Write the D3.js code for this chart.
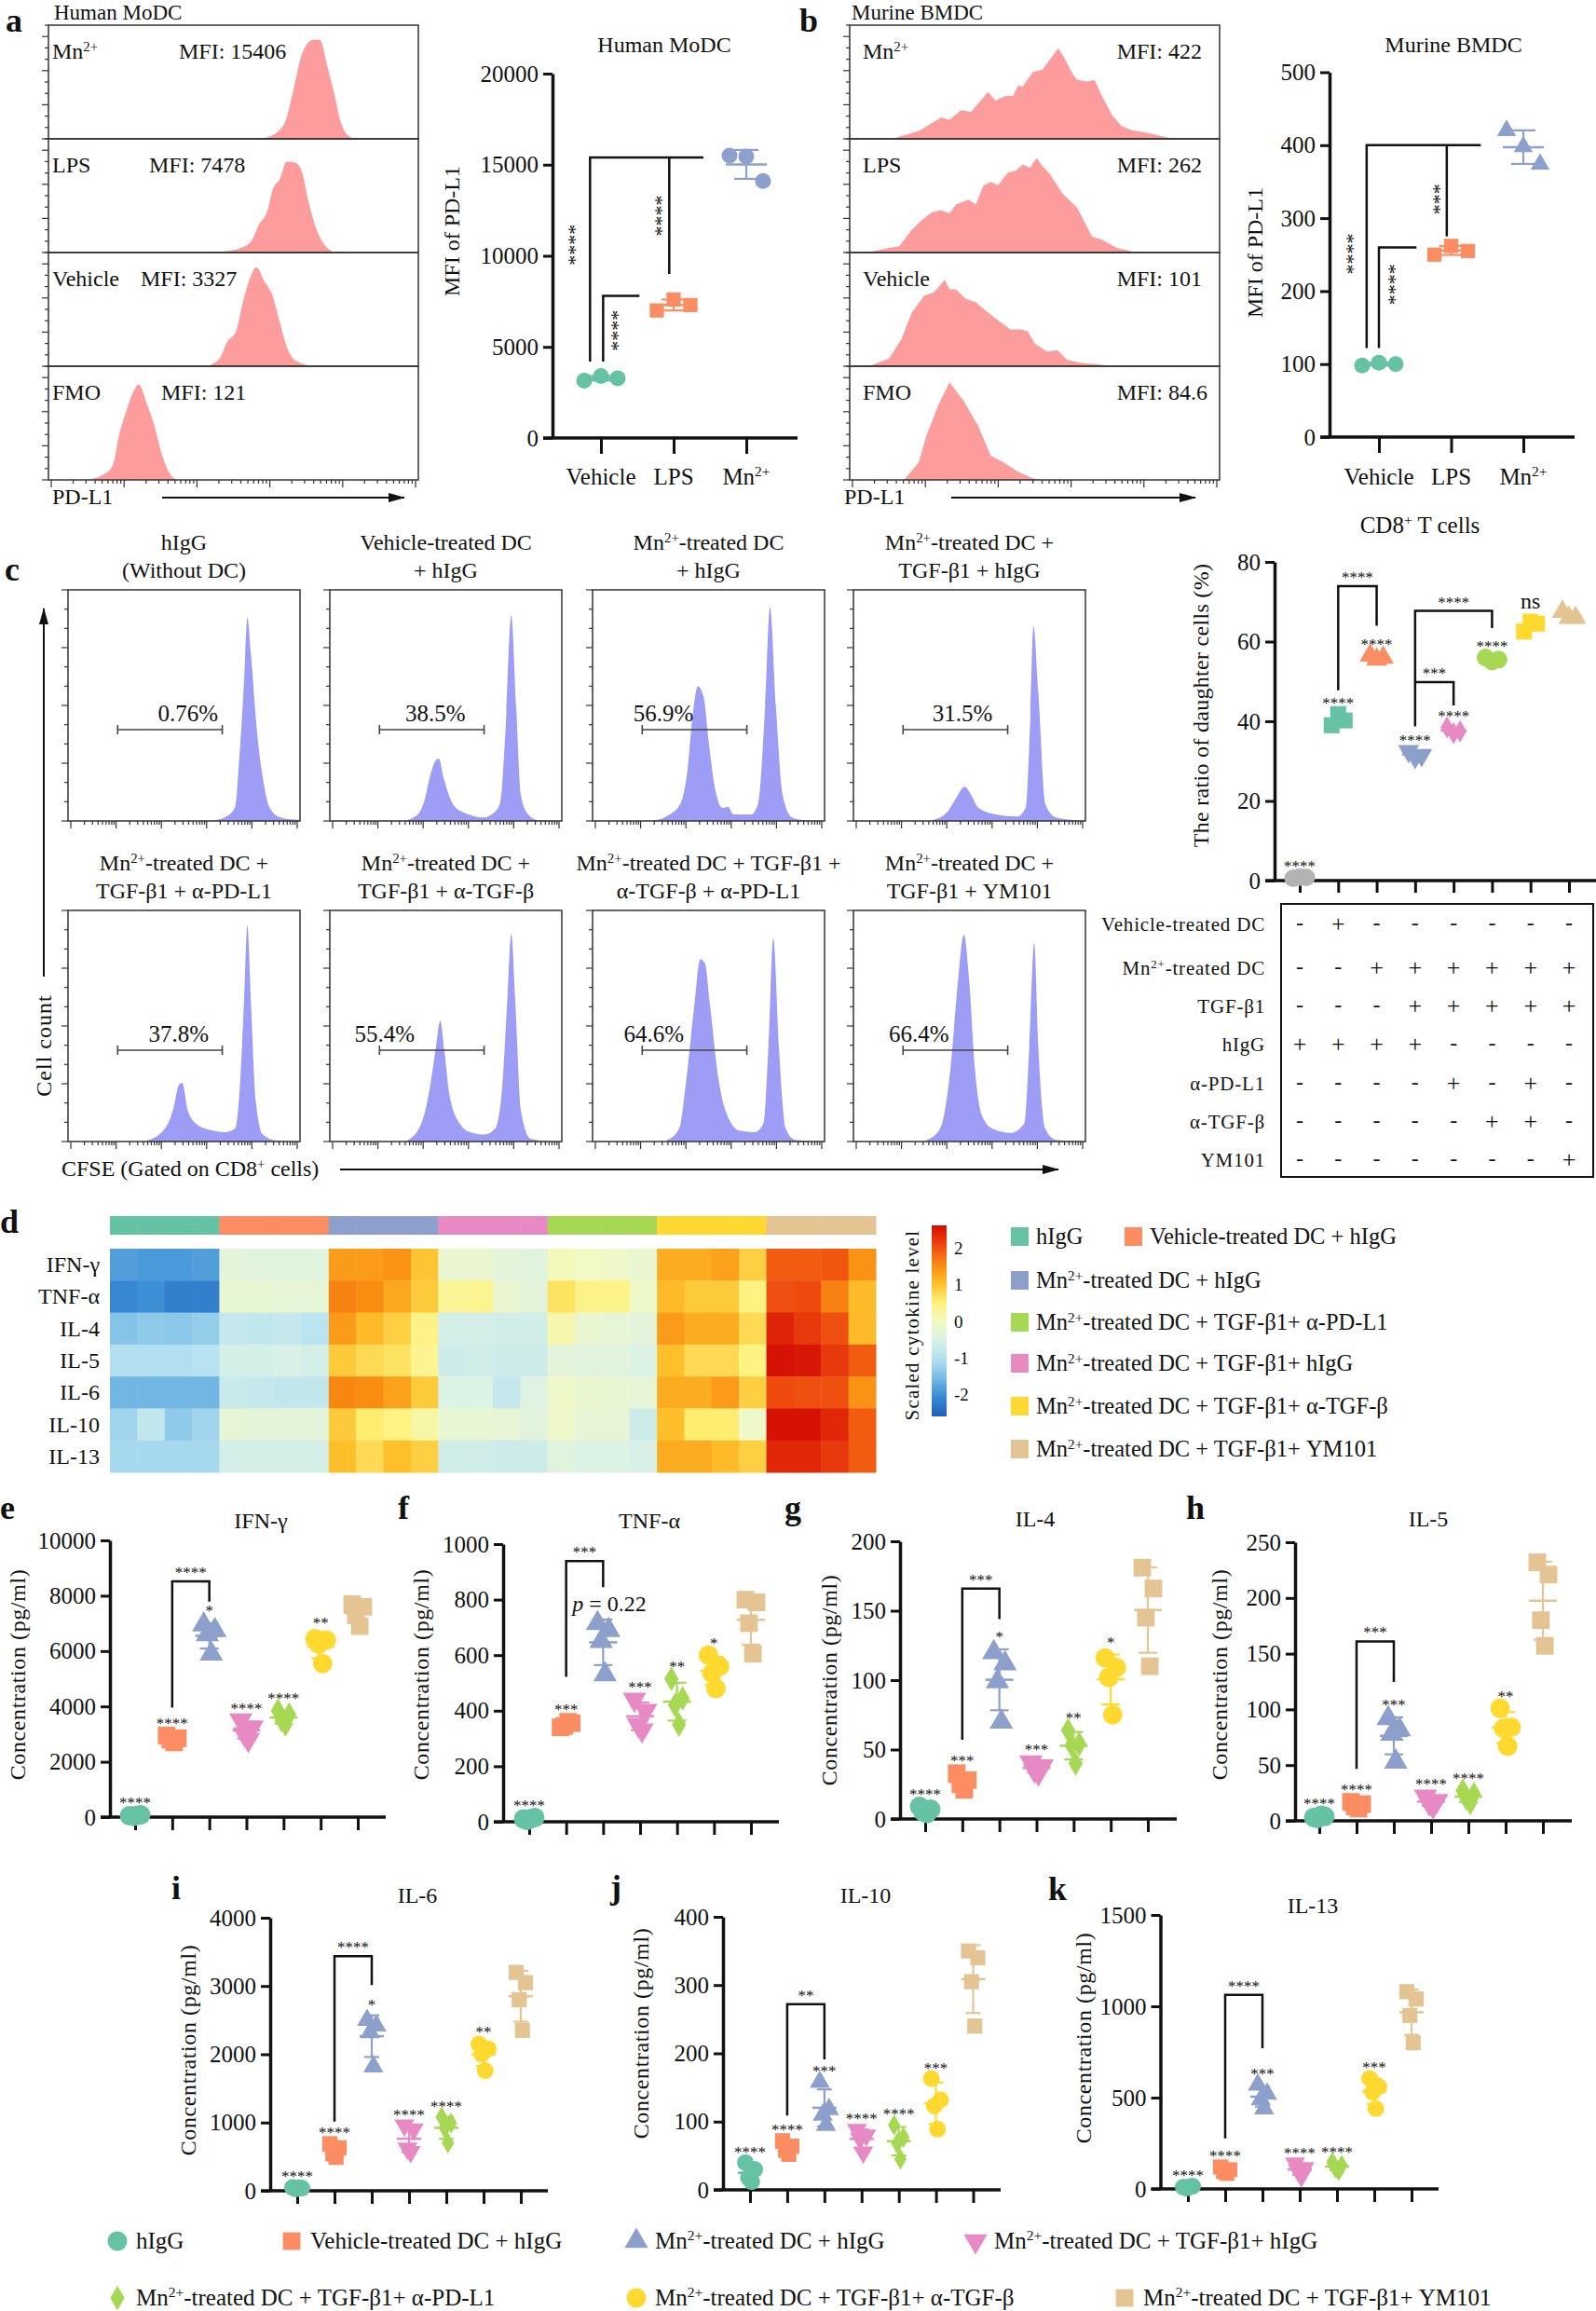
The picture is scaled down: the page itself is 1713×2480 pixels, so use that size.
<!DOCTYPE html>
<html><head><meta charset="utf-8">
<script src="https://cdn.jsdelivr.net/npm/d3@7"></script>
<style>
html,body{margin:0;padding:0;background:#fff;}
svg{display:block;}
</style></head><body><svg id="fig" width="1713" height="2480"></svg>
<script>
// ================= DATA =================
const groupColors = ["#66c2a5","#fc8d62","#8da0cb","#e78ac3","#a6d854","#ffd92f","#e5c494"];
const greyColor = "#b3b3b3";
const histRed = "#fc9c9c";
const histBlue = "#9d9df5";

// ---- panels a / b ----
const abCategories = ["Vehicle","LPS","Mn^{2+}"];
const humanMFIValues = [[3150,3400,3280],[7000,7600,7300],[15500,15450,14100]];
const murineMFIValues = [[98,102,100],[250,262,255],[420,398,374]];
const humanTicks = [0,5000,10000,15000,20000];
const murineTicks = [0,100,200,300,400,500];
const histLabels = ["Mn^{2+}","LPS","Vehicle","FMO"];
const humanMFILabels = ["MFI: 15406","MFI: 7478","MFI: 3327","MFI: 121"];
const murineMFILabels = ["MFI: 422","MFI: 262","MFI: 101","MFI: 84.6"];
// histogram outlines: [channel position %, height %]
const humanHist = [
 [[57,0],[60.5,3],[64,15],[66,40],[68.6,75],[71.5,87],[73.4,87],[75.3,65],[77.4,38],[79,15],[81,3],[83,0]],
 [[44.2,0],[47.7,1],[52,4],[54.8,10],[57,25],[59,35],[60.7,56],[62.6,65],[64.4,80],[66.8,79],[68.6,70],[70.3,45],[72.5,20],[74.6,7],[77.4,0]],
 [[42.8,0],[46.3,7],[48.4,22],[50.6,30],[52.7,58],[54.8,80],[56.2,87],[58.3,75],[60.5,63],[62.6,38],[64.7,15],[66.8,5],[71.8,0]],
 [[10.3,0],[14.5,4],[17.4,13],[19.2,41],[20.9,59],[23,78],[24.4,84],[26.6,67],[28.7,47],[30.8,21],[32.9,5],[35,0]]
];
const murineHist = [
 [[11.4,0],[18.7,7],[24.7,18.8],[27,16.8],[30.1,25.2],[32.8,23.8],[37.4,41.2],[39.4,33.6],[42.1,37.8],[44.1,37.8],[45.5,46.8],[46.8,46.2],[49.5,58.8],[52.1,60.8],[54.8,72.8],[56.4,79.8],[58.2,70],[60.2,57.4],[61.5,51.8],[64.2,50.4],[66.2,51.8],[68.2,37.8],[70.9,21],[73.5,11.2],[76.2,7.6],[80.2,5.6],[85.6,1.4],[88.2,0]],
 [[4.7,0],[10.7,4.2],[13.4,5.6],[16.7,19.7],[19.4,28.2],[22.1,35.2],[24.7,37.2],[27,34.4],[28.7,42.3],[32.1,46.5],[34.1,42.3],[36.1,58.6],[38.1,62],[40.1,59.2],[42.8,70.4],[44.8,71.8],[46.8,77.5],[48.8,74.6],[50.5,83.1],[52.1,76],[54.1,69],[57.5,52.1],[61.5,39.4],[65.5,14.1],[68.2,11.3],[72.2,4.2],[77.5,0]],
 [[5.3,0],[10.7,7],[14,23.9],[16.7,46.5],[20.1,62],[22.7,64.8],[25.7,76],[27,67.6],[28.7,67.6],[31.4,59.2],[34.1,56.3],[36.1,50.7],[38.8,43.7],[41.7,36.6],[43.4,32.4],[46.1,32.4],[48.1,31],[50.1,19.7],[53.5,12.7],[56.1,14.1],[58.8,5.6],[62.8,2.8],[72.2,0]],
 [[14.7,0],[18.7,15.7],[20.7,38.6],[24.1,67.1],[27,85.7],[30.7,70],[34.8,47.1],[38.1,21.4],[41.4,15.7],[45.5,7.1],[49.5,1.4],[52.1,0]]
];
// significance lines in data units: [category index, value]
const humanBrackets = [[[-0.15,4200],[-0.15,15400],[1.41,15400]],[[0.94,9000],[0.94,15400]],[[0.03,4200],[0.03,7800],[0.53,7800]]];
const humanBracketStars = [["****",-0.36,10600],["****",0.83,12200],["****",0.22,5900]];
const murineBrackets = [[[-0.17,122],[-0.17,400],[1.41,400]],[[0.94,275],[0.94,400]],[[0,122],[0,260],[0.52,260]]];
const murineBracketStars = [["****",-0.37,251],["***",0.83,326],["****",0.21,209]];

// ---- panel c ----
const cTitles = [["hIgG","(Without DC)"],["Vehicle-treated DC","+ hIgG"],["Mn^{2+}-treated DC","+ hIgG"],["Mn^{2+}-treated DC +","TGF-β1 + hIgG"],
 ["Mn^{2+}-treated DC +","TGF-β1 + α-PD-L1"],["Mn^{2+}-treated DC +","TGF-β1 + α-TGF-β"],["Mn^{2+}-treated DC + TGF-β1 +","α-TGF-β + α-PD-L1"],["Mn^{2+}-treated DC +","TGF-β1 + YM101"]];
const cGateValues = ["0.76%","38.5%","56.9%","31.5%","37.8%","55.4%","64.6%","66.4%"];
const cHists = [
 [[61.3,0],[67.4,1.5],[71.9,5.6],[74,29.6],[75.8,59],[77.3,88],[78.9,72],[81,44],[84,18.5],[87,5.6],[91.5,1.5],[100,0.4]],
 [[31.8,0],[37.9,2.8],[40.9,9.3],[43,18.5],[45.5,26],[47,27],[49.1,18.5],[53,7.4],[57.6,3.7],[66.7,1.5],[69.7,2.8],[73.3,7.4],[75.8,40.7],[78.2,88.9],[80.3,50],[82.4,11],[85.5,2.8],[89.4,0.4],[100,0]],
 [[25.5,0],[33.2,2.8],[37.8,7.4],[40.9,22],[43,44.4],[45.4,58.3],[47.9,53.7],[50,35],[53,13],[56.1,5.6],[58.5,6],[60.7,2.8],[68.3,2.8],[71.3,7.4],[74.4,50],[76.5,92.6],[79,50],[82,11],[86,1.5],[91.2,0.4],[100,0]],
 [[34.2,0.4],[40.3,3.7],[43.9,9.3],[47.9,14.8],[50.9,11],[53.9,5.6],[61.5,2.8],[70.6,1.9],[74.2,5.6],[76.1,40.7],[77.6,84.3],[79.7,55.6],[82.7,7.4],[87.3,1.5],[94.8,0.4],[100,0]],
 [[34.1,0.4],[41.7,5.5],[45.6,15],[47.7,24.4],[49.2,25.4],[51.7,13.3],[55.3,7.7],[61.3,5],[67.4,4],[71.9,5.5],[74,22.5],[75.8,59.4],[77.3,93.5],[78.9,59.4],[81,16.9],[84,3],[90,0.4],[100,0]],
 [[33.3,0.4],[39.4,7.7],[43,22.5],[45.5,39.3],[47.6,52.2],[49.4,39.3],[51.5,20.7],[56.1,7.7],[60.6,4],[66.7,3],[71.2,5.5],[74.2,22.5],[76.4,59.4],[78.2,89.9],[80,59.4],[82.4,13.3],[86.4,1.3],[90.9,0.4],[100,0]],
 [[31.8,0.4],[37.3,5.5],[40.3,25.8],[43.9,59.4],[46.4,78.8],[48.5,77],[50.6,59.4],[54.5,25.8],[59.1,9.2],[63.6,4.6],[69.7,4],[73.6,7.7],[75.8,41],[77.9,88],[80.3,41],[83.3,5.5],[87.3,0.7],[100,0]],
 [[31.2,0.4],[37.3,5.5],[41.8,31.4],[44.8,66.4],[47.6,89.5],[50,68.3],[52.4,31.4],[55.5,11.1],[60,5.5],[67.6,3.7],[73.6,7.7],[75.8,41],[77.9,86],[79.7,41],[82.7,5.5],[87.3,0.7],[100,0]]
];
const cRatioValues = [[0.6,0.9,0.8],[39,41.8,40.2],[56.5,55.5,56],[32.5,31,31.5],[38.5,37,37.5],[56,55,55.5],[62.5,65,64.5],[67.5,66,66]];
const cRatioTicks = [0,20,40,60,80];
const cRatioStars = ["****","****","****","****","****","****","ns",""];
const cRatioBrackets = [{from:1,to:2,top:73.9,lb:47.8,rb:64,label:"****"},{from:3,to:5,top:67.7,lb:38.7,rb:63.4,label:"****"},{from:3,to:4,top:49.8,lb:49.8,rb:44,label:"***"}];
const cTableRows = ["Vehicle-treated DC","Mn^{2+}-treated DC","TGF-β1","hIgG","α-PD-L1","α-TGF-β","YM101"];
const cTableMarks = ["-+------","--++++++","---+++++","++++----","----+-+-","-----++-","-------+"];

// ---- panel d ----
const heatRows = ["IFN-γ","TNF-α","IL-4","IL-5","IL-6","IL-10","IL-13"];
const heatValues = [
 [-1.85,-1.9,-1.9,-1.85, -0.35,-0.4,-0.4,-0.4, 1.35,1.35,1.45,0.95, -0.2,-0.2,-0.35,-0.4, 0.05,0.0,-0.1,-0.2, 1.2,1.2,1.3,0.85, 1.9,1.9,1.95,1.45],
 [-2.1,-2.0,-2.2,-2.2, -0.25,-0.25,-0.3,-0.3, 1.6,1.5,1.25,0.9, 0.3,0.35,-0.2,-0.35, 0.65,0.4,0.4,-0.1, 1.05,0.9,0.9,0.45, 2.0,2.05,1.6,1.05],
 [-1.45,-1.35,-1.4,-1.3, -0.8,-0.85,-0.8,-0.95, 1.35,1.05,0.85,0.4, -0.6,-0.6,-0.65,-0.65, 0.15,-0.2,-0.3,-0.35, 1.35,1.2,1.2,0.75, 2.4,2.2,2.0,1.05],
 [-1.05,-1.05,-1.05,-1.0, -0.6,-0.6,-0.55,-0.6, 0.9,0.75,0.65,0.35, -0.7,-0.65,-0.7,-0.7, -0.35,-0.4,-0.4,-0.5, 1.0,0.75,0.75,0.45, 2.55,2.5,2.2,1.9],
 [-1.6,-1.6,-1.6,-1.6, -0.75,-0.8,-0.85,-0.85, 1.55,1.5,1.3,0.9, -0.5,-0.5,-0.8,-0.45, -0.1,-0.2,-0.25,-0.3, 1.2,1.2,1.35,0.85, 2.05,2.0,2.0,1.45],
 [-1.2,-0.85,-1.35,-1.2, -0.3,-0.35,-0.35,-0.35, 0.9,0.55,0.45,0.2, -0.25,-0.25,-0.3,-0.4, -0.1,-0.3,-0.3,-0.7, 1.0,0.55,0.55,-0.1, 2.55,2.55,2.35,1.9],
 [-1.15,-1.15,-1.15,-1.15, -0.6,-0.6,-0.6,-0.6, 1.0,0.75,1.0,0.85, -0.65,-0.65,-0.7,-0.7, -0.4,-0.5,-0.5,-0.55, 1.2,1.2,1.05,0.85, 2.35,2.35,2.2,1.9]
];
const heatColorTicks = [2,1,0,-1,-2];
const heatLegendLabels = ["hIgG","Vehicle-treated DC + hIgG","Mn^{2+}-treated DC + hIgG","Mn^{2+}-treated DC + TGF-β1+ α-PD-L1","Mn^{2+}-treated DC + TGF-β1+ hIgG","Mn^{2+}-treated DC + TGF-β1+ α-TGF-β","Mn^{2+}-treated DC + TGF-β1+ YM101"];
const heatLegendColorIdx = [0,1,2,4,3,5,6];

// ---- panels e-k ----
const cytoGroupLabels = ["hIgG","Vehicle-treated DC + hIgG","Mn^{2+}-treated DC + hIgG","Mn^{2+}-treated DC + TGF-β1+ hIgG","Mn^{2+}-treated DC + TGF-β1+ α-PD-L1","Mn^{2+}-treated DC + TGF-β1+ α-TGF-β","Mn^{2+}-treated DC + TGF-β1+ YM101"];
const cytoShapes = ["circle","square","triangle","down","diamond","circle","square"];
const ifnValues = [[50,80,30,60],[2950,2850,2800,2700],[6950,6750,6600,5900],[3500,3250,3000,2800],[3850,3700,3500,3350],[6450,6400,6250,5550],[7700,7600,7300,6900]];
const tnfValues = [[10,15,5,12],[340,355,345,360],[715,690,650,530],[440,400,350,330],[515,445,420,350],[600,560,535,480],[800,790,715,605]];
const il4Values = [[9,7,5,4],[33,28,25,21],[120,112,99,70],[41,38,35,33],[64,54,53,40],[116,109,102,75],[181,166,145,110]];
const il5Values = [[3,4,2,5],[17,15,13,11],[92,82,78,53],[22,18,16,13],[27,24,20,16],[101,84,83,67],[232,221,180,157]];
const il6Values = [[50,40,30,45],[690,630,540,490],[2500,2420,2320,1820],[960,900,620,570],[1080,990,920,700],[2150,2080,2000,1760],[3200,3050,2800,2350]];
const il10Values = [[40,30,18,12],[72,64,58,52],[158,118,110,95],[88,80,75,55],[95,77,68,45],[163,132,123,89],[350,340,305,240]];
const il13Values = [[10,15,5,12],[120,105,95,85],[570,520,490,440],[140,115,100,70],[145,130,115,100],[605,560,530,440],[1080,1040,950,800]];
const cytoPanels = [
 {letter:"e",title:"IFN-γ",max:10000,ticks:[0,2000,4000,6000,8000,10000],values:ifnValues,stars:["****","****","*","****","****","**",""],bracket:{from:1,to:2,top:8516,lb:3960,rb:7790,label:"****"}},
 {letter:"f",title:"TNF-α",max:1000,ticks:[0,200,400,600,800,1000],values:tnfValues,stars:["****","***","","***","**","*",""],bracket:{from:1,to:2,top:939,lb:522,rb:845,label:"***"},note:{text:"~{p} = 0.22",at:[2.17,758]}},
 {letter:"g",title:"IL-4",max:200,ticks:[0,50,100,150,200],values:il4Values,stars:["****","***","*","***","**","*",""],bracket:{from:1,to:2,top:166,lb:57,rb:144,label:"***"}},
 {letter:"h",title:"IL-5",max:250,ticks:[0,50,100,150,200,250],values:il5Values,stars:["****","****","***","****","****","**",""],bracket:{from:1,to:2,top:161,lb:46.7,rb:124.6,label:"***"}},
 {letter:"i",title:"IL-6",max:4000,ticks:[0,1000,2000,3000,4000],values:il6Values,stars:["****","****","*","****","****","**",""],bracket:{from:1,to:2,top:3436,lb:1014,rb:3013,label:"****"}},
 {letter:"j",title:"IL-10",max:400,ticks:[0,100,200,300,400],values:il10Values,stars:["****","****","***","****","****","***",""],bracket:{from:1,to:2,top:272,lb:109,rb:191,label:"**"}},
 {letter:"k",title:"IL-13",max:1500,ticks:[0,500,1000,1500],values:il13Values,stars:["****","****","***","****","****","***",""],bracket:{from:1,to:2,top:1062,lb:277,rb:770,label:"****"}}
];

// ================= LAYOUT / HELPERS =================
const FONT = '"Liberation Serif","Times New Roman",Times,serif';
const svg = d3.select("#fig");
svg.append("rect").attr("width",1713).attr("height",2480).attr("fill","#fff");
const defs = svg.append("defs");
defs.append("marker").attr("id","arr").attr("viewBox","0 0 18 10").attr("refX",17).attr("refY",5)
  .attr("markerWidth",18).attr("markerHeight",10).attr("markerUnits","userSpaceOnUse").attr("orient","auto")
  .append("path").attr("d","M0,0L18,5L0,10z").attr("fill","#111");

function rich(t, str){
  const re = /\^\{([^}]*)\}|~\{([^}]*)\}/g;
  let last=0, m; const parts=[];
  while((m=re.exec(str))){ if(m.index>last) parts.push({t:str.slice(last,m.index)});
    if(m[1]!==undefined) parts.push({t:m[1],sup:true}); else parts.push({t:m[2],it:true}); last=re.lastIndex; }
  if(last<str.length) parts.push({t:str.slice(last)});
  let shifted=false;
  parts.forEach(p=>{
    const ts=t.append("tspan").text(p.t);
    if(p.sup){ ts.attr("font-size","0.62em").attr("dy","-0.55em"); shifted=true; }
    else { if(shifted){ ts.attr("dy","0.341em"); shifted=false; } if(p.it) ts.attr("font-style","italic"); }
  });
}
function txt(g,x,y,str,o={}){
  const t=g.append("text").attr("x",x).attr("y",y).attr("font-family",FONT).attr("font-size",o.size||24)
    .attr("text-anchor",o.anchor||"start").attr("fill",o.fill||"#111");
  if(o.weight) t.attr("font-weight",o.weight);
  if(o.ls) t.attr("letter-spacing",o.ls);
  if(o.rotate) t.attr("transform",`rotate(${o.rotate},${x},${y})`);
  rich(t,str); return t;
}
function ln(g,x1,y1,x2,y2,w,c){ return g.append("line").attr("x1",x1).attr("y1",y1).attr("x2",x2).attr("y2",y2).attr("stroke",c||"#111").attr("stroke-width",w||2); }
const symTypes={circle:d3.symbolCircle,square:d3.symbolSquare,triangle:d3.symbolTriangle,down:d3.symbolTriangle,diamond:d3.symbolDiamond};
function symArea(shape,D){
  if(shape==="circle") return Math.PI*D*D/4;
  if(shape==="square") return 0.81*D*D;
  if(shape==="diamond") return 0.46*D*D;
  return Math.sqrt(3)/4*(1.2*D)*(1.2*D);
}
function marker(g,shape,cx,cy,D,color){
  g.append("path").attr("d",d3.symbol(symTypes[shape],symArea(shape,D))()).attr("fill",color)
    .attr("transform",`translate(${cx},${cy})${shape==="down"?" rotate(180)":""}`);
}
function offsets(n,s){ return n===3?[-s,0,s]:(n===4?[-s,s,-0.35*s,0.35*s]:d3.range(n).map(i=>(i-(n-1)/2)*s)); }
function styleAxis(a,size){
  a.attr("font-family",FONT).attr("font-size",size).attr("color","#111");
  a.select(".domain").attr("stroke-width",3.5);
  a.selectAll(".tick line").attr("stroke-width",3);
}

function drawHist(g,b,pts,color,curve){
  const xs=d3.scaleLinear().domain([0,100]).range([b.x,b.x+b.w]);
  const ys=d3.scaleLinear().domain([0,100]).range([b.y+b.h,b.y]);
  const area=d3.area().x(d=>xs(d[0])).y0(ys(0)).y1(d=>ys(d[1])).curve(curve||d3.curveMonotoneX);
  g.append("path").datum(pts).attr("d",area).attr("fill",color);
}
function logTicks(g,x0,w,yb,down){
  const s=d3.scaleLog().domain([10,1e6]).range([x0+3,x0+w-3]);
  s.ticks().forEach(v=>{ const major=Math.abs(Math.log10(v)-Math.round(Math.log10(v)))<1e-9;
    ln(g,s(v),yb,s(v),yb+(down?(major?8:4):(major?-8:-4)),1.2,"#333"); });
}
function leftTicks(g,x,yTop,h,n){
  for(let k=0;k<=n;k++){ const yy=yTop+h-k*h/n; ln(g,x,yy,x-(k%3===0?7:4),yy,1.2,"#333"); }
}

// generic dot plot
function dotPanel(cfg,L){
  const g=svg.append("g");
  const n=cfg.values.length;
  const y=d3.scaleLinear().domain([0,cfg.max]).range([L.yBottom,L.yTop]);
  const x=d3.scalePoint().domain(d3.range(n)).range([L.x0,L.x1]);
  const xi=d3.scaleLinear().domain([0,n-1]).range([L.x0,L.x1]);
  const ya=g.append("g").attr("transform",`translate(${L.axisX},0)`)
    .call(d3.axisLeft(y).tickValues(cfg.ticks).tickSize(10).tickSizeOuter(0).tickPadding(5).tickFormat(d3.format("d")));
  styleAxis(ya,L.tickFont||25);
  ln(g,L.axisX-10,y(0),L.xEnd,y(0),3.5);
  const xa=g.append("g").attr("transform",`translate(0,${y(0)})`)
    .call(d3.axisBottom(x).tickSize(L.xTickLen||14).tickSizeOuter(0).tickFormat(()=>""));
  xa.select(".domain").remove(); xa.selectAll(".tick line").attr("stroke","#111").attr("stroke-width",3);
  cfg.values.forEach((vals,gi)=>{
    const cx=x(gi), col=cfg.colors[gi], shape=cfg.shapes[gi];
    const m=d3.mean(vals), sd=d3.deviation(vals);
    const off=offsets(vals.length,L.spread);
    vals.forEach((v,k)=>marker(g,shape,cx+off[k],y(v),L.D,col));
    ln(g,cx-L.meanHalf,y(m),cx+L.meanHalf,y(m),2.5,col);
    ln(g,cx,y(m-sd),cx,y(m+sd),2.2,col);
    ln(g,cx-L.capHalf,y(m+sd),cx+L.capHalf,y(m+sd),2.2,col);
    ln(g,cx-L.capHalf,y(m-sd),cx+L.capHalf,y(m-sd),2.2,col);
    const s=cfg.stars?cfg.stars[gi]:"";
    if(s){ const top=Math.max(d3.max(vals),m+sd); let by=y(top)-L.D/2+3;
      if(s.indexOf("*")<0){ txt(g,cx,by-6,s,{size:24,anchor:"middle"}); }
      else txt(g,cx,by,s,{size:17,anchor:"middle"}); }
  });
  (cfg.brackets||[]).forEach(b=>{
    g.append("path").attr("d",`M${x(b.from)},${y(b.lb)}V${y(b.top)}H${x(b.to)}V${y(b.rb)}`)
      .attr("fill","none").attr("stroke","#111").attr("stroke-width",2.5);
    txt(g,(x(b.from)+x(b.to))/2,y(b.top)-4,b.label,{size:17,anchor:"middle"});
  });
  if(cfg.note) txt(g,xi(cfg.note.at[0]),y(cfg.note.at[1]),cfg.note.text,{size:24,anchor:"middle"});
  if(cfg.xLabels) cfg.xLabels.forEach((lab,i)=>txt(g,x(i),L.labelY,lab,{size:25,anchor:"middle"}));
  if(cfg.lines) cfg.lines.forEach(pl=>{
    g.append("path").attr("d",d3.line().x(d=>xi(d[0])).y(d=>y(d[1]))(pl)).attr("fill","none").attr("stroke","#111").attr("stroke-width",2.5);
  });
  if(cfg.rotStars) cfg.rotStars.forEach(s=>{
    const px=xi(s[1]), py=y(s[2]);
    g.append("text").attr("x",px).attr("y",py).attr("font-family",FONT).attr("font-size",22).attr("text-anchor","middle")
      .attr("dominant-baseline","central").attr("transform",`rotate(90,${px},${py}) translate(0,5)`).attr("fill","#111").text(s[0]);
  });
  if(cfg.title) txt(g,L.titleX,L.titleY,cfg.title,{size:L.titleSize||24,anchor:"middle"});
  if(cfg.ylabel) txt(g,L.ylabX+8,L.ylabY,cfg.ylabel,{size:24,anchor:"middle",rotate:-90,ls:L.ls||0});
  return {g,x,y};
}

// ================= PANEL LETTERS =================
[["a",6,34],["b",858,34],["c",5,623],["d",0,1323],["e",0,1630],["f",427,1630],["g",842,1630],["h",1273,1630],["i",184,2038],["j",655,2037],["k",1125,2039]]
  .forEach(d=>txt(svg,d[1],d[2],d[0],{size:36,weight:"bold"}));

// ================= PANEL a / b histograms =================
function histStack(box,hist,mfi,opt){
  const g=svg.append("g"); const ph=box.h/4;
  hist.forEach((pts,i)=>{
    const b={x:box.x,y:box.y+i*ph,w:box.w,h:ph};
    drawHist(g,b,pts,histRed,opt.curve);
    g.append("rect").attr("x",b.x).attr("y",b.y).attr("width",b.w).attr("height",b.h).attr("fill","none").attr("stroke","#333").attr("stroke-width",1.5);
    leftTicks(g,b.x,b.y,b.h,10);
    txt(g,opt.labelX,b.y+36,histLabels[i],{size:24});
    txt(g,opt.mfiX[i],b.y+36,mfi[i],{size:24,anchor:opt.anchor});
  });
  logTicks(g,box.x,box.w,box.y+box.h,true);
  txt(g,opt.titleX,21,opt.title,{size:23});
  txt(g,opt.pdX,541,"PD-L1",{size:24});
  ln(g,opt.arrow[0],534,opt.arrow[1],534,2).attr("marker-end","url(#arr)");
}
histStack({x:52,y:27,w:397,h:488},humanHist,humanMFILabels,{labelX:56,mfiX:[192,160,151,173],anchor:"start",title:"Human MoDC",titleX:58,pdX:56,arrow:[174,434]});
histStack({x:912,y:27,w:397,h:488},murineHist,murineMFILabels,{labelX:926,mfiX:[1290,1290,1290,1296],anchor:"end",title:"Murine BMDC",titleX:914,pdX:906,arrow:[1021,1283],curve:d3.curveLinear});

dotPanel({values:humanMFIValues,colors:[groupColors[0],groupColors[1],groupColors[2]],shapes:["circle","square","circle"],max:20000,ticks:humanTicks,
  xLabels:abCategories,lines:humanBrackets,rotStars:humanBracketStars,title:"Human MoDC",ylabel:"MFI of PD-L1"},
  {axisX:593,x0:645,x1:801,xEnd:856,yBottom:470,yTop:79,D:17,spread:18,meanHalf:22,capHalf:13,xTickLen:17,labelY:520,titleX:713,titleY:56,ylabX:485,ylabY:248});
dotPanel({values:murineMFIValues,colors:[groupColors[0],groupColors[1],groupColors[2]],shapes:["circle","square","triangle"],max:500,ticks:murineTicks,
  xLabels:abCategories,lines:murineBrackets,rotStars:murineBracketStars,title:"Murine BMDC",ylabel:"MFI of PD-L1"},
  {axisX:1427,x0:1480,x1:1635,xEnd:1690,yBottom:469,yTop:77.5,D:17,spread:18,meanHalf:22,capHalf:13,xTickLen:17,labelY:520,titleX:1560,titleY:56,ylabX:1347,ylabY:271});

// ================= PANEL c histograms =================
(function(){
  const g=svg.append("g");
  const lefts=[73,354,636,916], tops=[633,977], bw=249, bh=248;
  const gateLabelX=[51.7,45.5,30.5,47,47.7,23.6,26.4,28.2];
  cHists.forEach((pts,i)=>{
    const b={x:lefts[i%4],y:tops[Math.floor(i/4)],w:bw,h:bh};
    drawHist(g,b,pts,histBlue);
    g.append("rect").attr("x",b.x).attr("y",b.y).attr("width",b.w).attr("height",b.h).attr("fill","none").attr("stroke","#333").attr("stroke-width",1.5);
    leftTicks(g,b.x,b.y,b.h,12);
    logTicks(g,b.x,b.w,b.y+b.h,true);
    const gy=b.y+b.h*(1-0.395), gx1=b.x+b.w*0.214, gx2=b.x+b.w*0.665;
    ln(g,gx1,gy,gx2,gy,1.6,"#444"); ln(g,gx1,gy-5,gx1,gy+5,1.6,"#444"); ln(g,gx2,gy-5,gx2,gy+5,1.6,"#444");
    txt(g,b.x+b.w*gateLabelX[i]/100,gy-9,cGateValues[i],{size:25,anchor:"middle"});
    const t=cTitles[i];
    txt(g,b.x+b.w/2,b.y-43,t[0],{size:24,anchor:"middle"});
    txt(g,b.x+b.w/2,b.y-13,t[1],{size:24,anchor:"middle"});
  });
  txt(g,55,1122,"Cell count",{size:24,anchor:"middle",rotate:-90,ls:1});
  ln(g,47,1048,47,653,2).attr("marker-end","url(#arr)");
  txt(g,66,1262,"CFSE (Gated on CD8^{+} cells)",{size:24});
  ln(g,365,1255,1136,1255,2).attr("marker-end","url(#arr)");
})();

// ================= PANEL c right scatter + table =================
(function(){
  const cols=[greyColor].concat(groupColors);
  const r=dotPanel({values:cRatioValues,colors:cols,shapes:["circle","square","triangle","down","diamond","circle","square","triangle"],max:80,ticks:cRatioTicks,
    stars:cRatioStars,brackets:cRatioBrackets,title:"CD8^{+} T cells",ylabel:"The ratio of daughter cells (%)"},
    {axisX:1368,x0:1395,x1:1684,xEnd:1713,yBottom:945,yTop:603,D:19,spread:7,meanHalf:14,capHalf:8,xTickLen:13,titleX:1524,titleY:572,titleSize:25,ylabX:1289,ylabY:757,ls:0.3});
  const g=svg.append("g");
  g.append("rect").attr("x",1375).attr("y",970).attr("width",335).attr("height",293).attr("fill","none").attr("stroke","#111").attr("stroke-width",2);
  cTableRows.forEach((lab,i)=>{
    const yy= i===0?992:1039+(i-1)*41.2;
    txt(g,1358,yy+7,lab,{size:21,anchor:"end",ls:0.8});
    cTableMarks[i].split("").forEach((mk,j)=>txt(g,r.x(j),yy+(mk==="+"?8:6),mk,{size:mk==="+"?26:24,anchor:"middle"}));
  });
})();

// ================= PANEL d heatmap =================
(function(){
  const g=svg.append("g");
  const heatColor=d3.scaleLinear().domain([-2.6,-2,-1.5,-1,-0.5,0,0.5,1,1.5,2,2.6])
    .range(["#1f5fbf","#3d8fd6","#7fc0e6","#b6e2f1","#dcf2e4","#f2f9c2","#fff27a","#fdc02b","#f98d12","#f0500f","#d40c04"]).clamp(true);
  const nCol=heatValues[0].length;
  const xb=d3.scaleBand().domain(d3.range(nCol)).range([118,940]);
  const yb=d3.scaleBand().domain(heatRows).range([1340,1580]);
  heatValues.forEach((row,ri)=>row.forEach((v,ci)=>{
    g.append("rect").attr("x",xb(ci)).attr("y",yb(heatRows[ri])).attr("width",xb.bandwidth()+0.5).attr("height",yb.bandwidth()+0.5).attr("fill",heatColor(v));
  }));
  d3.range(nCol).forEach(ci=>g.append("rect").attr("x",xb(ci)).attr("y",1305).attr("width",xb.bandwidth()+0.5).attr("height",20).attr("fill",groupColors[Math.floor(ci/4)]));
  heatRows.forEach(r=>txt(g,107,yb(r)+yb.bandwidth()/2+8,r,{size:24,anchor:"end"}));
  // colorbar
  const cb=d3.scaleLinear().domain([2.6,-2.6]).range([1315,1520]);
  const grad=defs.append("linearGradient").attr("id","cbg").attr("x1",0).attr("y1",0).attr("x2",0).attr("y2",1);
  d3.range(0,1.0001,0.05).forEach(t=>grad.append("stop").attr("offset",t).attr("stop-color",heatColor(2.6-5.2*t)));
  g.append("rect").attr("x",1000).attr("y",1315).attr("width",16).attr("height",205).attr("fill","url(#cbg)");
  heatColorTicks.forEach(v=>txt(g,1024,cb(v)+7,String(v),{size:19}));
  txt(g,986,1422,"Scaled cytokine level",{size:21,anchor:"middle",rotate:-90,ls:1.2});
  // legend
  const legPos=[[1085,1327],[1207,1327],[1085,1374],[1085,1419],[1085,1463],[1085,1509],[1085,1555]];
  heatLegendLabels.forEach((lab,i)=>{
    const p=legPos[i];
    g.append("rect").attr("x",p[0]).attr("y",p[1]-10).attr("width",19).attr("height",20).attr("fill",groupColors[heatLegendColorIdx[i]]);
    txt(g,p[0]+27,p[1]+8,lab,{size:24.5});
  });
})();

// ================= PANELS e-k =================
const cytoLayout = [
 {axisX:118,x0:145,x1:384,xEnd:414,yBottom:1950,yTop:1653,titleX:280,titleY:1640,ylabX:19,ylabY:1797},
 {axisX:540,x0:568,x1:806,xEnd:836,yBottom:1955,yTop:1657,titleX:697,titleY:1640,ylabX:452,ylabY:1797},
 {axisX:966,x0:993,x1:1232,xEnd:1263,yBottom:1952,yTop:1654,titleX:1111,titleY:1638,ylabX:890,ylabY:1803},
 {axisX:1390,x0:1416,x1:1656,xEnd:1687,yBottom:1954,yTop:1655,titleX:1533,titleY:1638,ylabX:1309,ylabY:1797},
 {axisX:290,x0:319,x1:559,xEnd:588,yBottom:2351,yTop:2058,titleX:448,titleY:2042,ylabX:202,ylabY:2200},
 {axisX:776,x0:805,x1:1044.5,xEnd:1074,yBottom:2350,yTop:2057,titleX:929,titleY:2042,ylabX:688,ylabY:2182},
 {axisX:1245.5,x0:1275,x1:1515,xEnd:1544,yBottom:2349,yTop:2055,titleX:1409,titleY:2053,ylabX:1163,ylabY:2187}
];
cytoPanels.forEach((p,i)=>{
  const small=i>=4;
  dotPanel({values:p.values,colors:groupColors,shapes:cytoShapes,max:p.max,ticks:p.ticks,stars:p.stars,brackets:[p.bracket],note:p.note,title:p.title,ylabel:"Concentration (pg/ml)"},
    Object.assign({D:small?18:21,spread:small?5:6,meanHalf:small?13:15,capHalf:small?8:10,xTickLen:14,tickFont:25,ls:0.6},cytoLayout[i]));
});

// bottom legend
(function(){
  const g=svg.append("g");
  const pos=[[126,2405],[313,2405],[683,2405],[1047,2405],[126,2466],[683,2466],[1207,2466]];
  cytoGroupLabels.forEach((lab,i)=>{
    const p=pos[i];
    marker(g,cytoShapes[i],p[0],p[1],21,groupColors[i]);
    txt(g,p[0]+20,p[1]+8,lab,{size:25});
  });
})();
</script></body></html>
